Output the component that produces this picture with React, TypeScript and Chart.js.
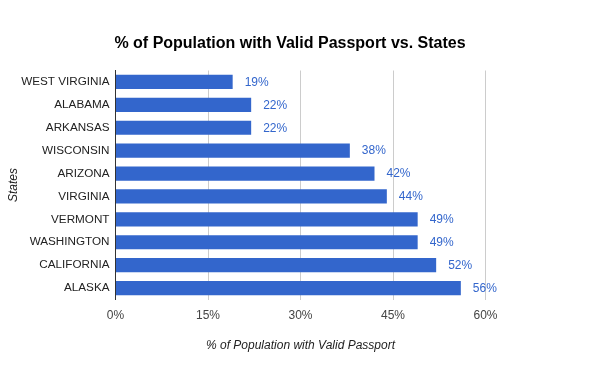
import React, { useEffect, useRef } from "react";
import { Chart, registerables } from "chart.js";

Chart.register(...registerables);

const states = [
  "WEST VIRGINIA",
  "ALABAMA",
  "ARKANSAS",
  "WISCONSIN",
  "ARIZONA",
  "VIRGINIA",
  "VERMONT",
  "WASHINGTON",
  "CALIFORNIA",
  "ALASKA",
];
const passportPct = [19, 22, 22, 38, 42, 44, 49, 49, 52, 56];
const xTicks = [0, 15, 30, 45, 60];

const chartTitle = "% of Population with Valid Passport vs. States";
const xTitle = "% of Population with Valid Passport";
const yTitle = "States";

const FONT = "'Liberation Sans', Arial, sans-serif";

const textPlugin = {
  id: "textPlugin",
  afterDraw(chart: any) {
    const ctx = chart.ctx;
    const area = chart.chartArea;
    ctx.save();
    // Title
    ctx.fillStyle = "#000";
    ctx.font = `bold 16px ${FONT}`;
    ctx.textAlign = "center";
    ctx.textBaseline = "alphabetic";
    ctx.fillText(chartTitle, 290, 48);
    // X title
    ctx.fillStyle = "#222";
    ctx.font = `italic 12px ${FONT}`;
    ctx.fillText(xTitle, (area.left + area.right) / 2, 349);
    // Y title
    ctx.save();
    ctx.translate(16.5, (area.top + area.bottom) / 2);
    ctx.rotate(-Math.PI / 2);
    ctx.fillText(yTitle, 0, 0);
    ctx.restore();
    // Data labels
    const meta = chart.getDatasetMeta(0);
    ctx.fillStyle = "#3366cc";
    ctx.font = `12px ${FONT}`;
    ctx.textAlign = "left";
    ctx.textBaseline = "middle";
    meta.data.forEach((bar: any, i: number) => {
      ctx.fillText(passportPct[i] + "%", bar.x + 12, bar.y + 0.5);
    });
    ctx.restore();
  },
};

export default function App() {
  const canvasRef = useRef<HTMLCanvasElement>(null);
  useEffect(() => {
    if (!canvasRef.current) return;
    const chart = new Chart(canvasRef.current, {
      type: "bar",
      data: {
        labels: states,
        datasets: [
          {
            data: passportPct,
            backgroundColor: "#3366cc",
            borderWidth: 0,
            barPercentage: 0.62,
            categoryPercentage: 1,
          },
        ],
      },
      options: {
        indexAxis: "y",
        animation: false,
        responsive: false,
        maintainAspectRatio: false,
        layout: { padding: { left: 0, top: 70.5, right: 114.5, bottom: 0 } },
        plugins: {
          legend: { display: false },
          title: { display: false },
          tooltip: { enabled: false },
        },
        scales: {
          x: {
            type: "linear",
            min: 0,
            max: 60,
            afterFit(scale: any) {
              scale.height = 71.5;
            },
            afterBuildTicks(scale: any) {
              scale.ticks = xTicks.map((v) => ({ value: v }));
            },
            grid: { color: "#cccccc", drawTicks: false, lineWidth: 1 },
            border: { display: false },
            ticks: {
              padding: 9,
              color: "#444",
              font: { family: FONT, size: 12 },
              callback: (v: any) => v + "%",
              maxRotation: 0,
            },
          },
          y: {
            afterFit(scale: any) {
              scale.width = 115.5;
            },
            grid: { display: false, drawTicks: false },
            border: { display: true, color: "#333", width: 1 },
            ticks: {
              padding: 6,
              color: "#222",
              font: { family: FONT, size: 11.7 },
              autoSkip: false,
            },
          },
        },
      },
      plugins: [textPlugin],
    });
    return () => chart.destroy();
  }, []);
  return (
    <div style={{ position: "absolute", left: 0, top: 0, width: 600, height: 371, background: "#fff" }}>
      <canvas ref={canvasRef} width={600} height={371} style={{ width: 600, height: 371 }} />
    </div>
  );
}
